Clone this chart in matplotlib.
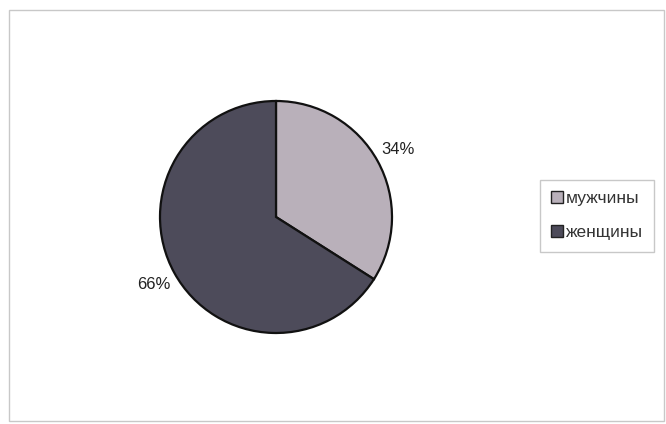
import matplotlib.pyplot as plt
from matplotlib.patches import Rectangle

plt.rcParams['font.family'] = ['Liberation Sans', 'DejaVu Sans']

# data
labels = ['мужчины', 'женщины']
shares = [34, 66]
colors = ['#b9b0ba', '#4d4b5a']

W, H = 666, 424
fig = plt.figure(figsize=(W / 100, H / 100), dpi=100)

# outer chart frame
fig.patches.append(Rectangle((9 / W, 1 - 421 / H), 655 / W, 411 / H,
                             transform=fig.transFigure, fill=False,
                             edgecolor='#c8c8c8', linewidth=1))

# pie centre (276, 217), radius ~116 px
r = 116
ax = fig.add_axes([(276 - r) / W, (H - 217 - r) / H, 2 * r / W, 2 * r / H])
wedges, texts, autotexts = ax.pie(
    shares, colors=colors, startangle=90, counterclock=False,
    autopct='%1.0f%%', pctdistance=1.2,
    wedgeprops=dict(edgecolor='#111111', linewidth=1.6),
    textprops=dict(fontsize=12, color='#222222'))
ax.set_xlim(-1, 1)
ax.set_ylim(-1, 1)
ax.set_aspect('equal')
ax.axis('off')

leg = fig.legend(wedges, labels, loc='upper left',
                 bbox_to_anchor=(540 / W, 1 - 180 / H),
                 fontsize=12.5, frameon=True, fancybox=False,
                 edgecolor='#bbbbbb', handlelength=0.65, handleheight=0.65,
                 handletextpad=0.2, labelspacing=1.1, borderpad=0.65,
                 borderaxespad=0, labelcolor='#333333')
leg.get_frame().set_linewidth(1)
for h in leg.legend_handles:
    h.set_edgecolor('#222222')
    h.set_linewidth(1)

fig.savefig('out.png', dpi=100)
